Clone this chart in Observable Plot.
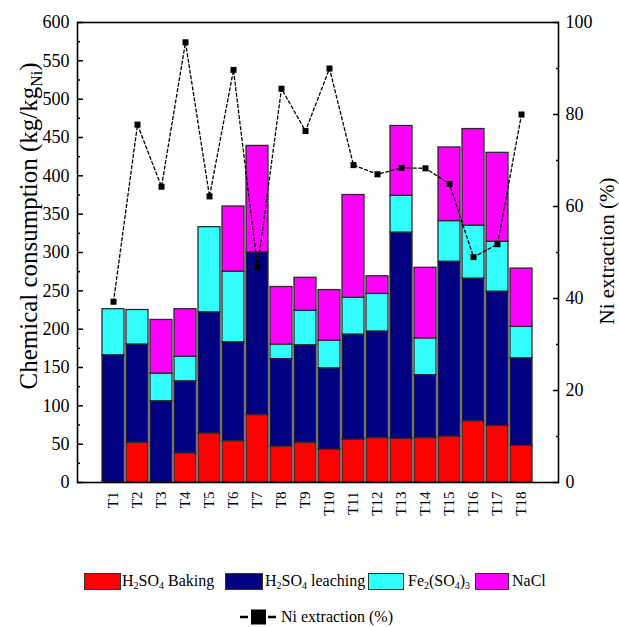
<!DOCTYPE html>
<html><head><meta charset="utf-8">
<script src="https://cdn.jsdelivr.net/npm/d3@7"></script>
<script src="https://cdn.jsdelivr.net/npm/@observablehq/plot@0.6"></script>
<style>
body{margin:0;background:#fff;font-family:'Liberation Serif',serif;color:#000;}
#wrap{position:relative;width:619px;height:627px;overflow:hidden;}
.sw{position:absolute;height:15px;border:1px solid #333;}
.lt{position:absolute;font-size:16px;line-height:16px;white-space:nowrap;font-family:'Liberation Serif',serif;}
.lt sub{font-size:10px;vertical-align:-3px;line-height:0;}
</style></head><body><div id="wrap"></div>
<script>
const trials = ["T1","T2","T3","T4","T5","T6","T7","T8","T9","T10","T11","T12","T13","T14","T15","T16","T17","T18"];
const baking   = [0,52,0,38,64,54,88,47,52,43,56,58,57,58,60,80,74,48];
const leaching = [166,128,106,94,158,129,212,114,127,106,137,139,269,82,228,186,175,114];
const ferric   = [60,45,36,32,111,92,0,19,45,36,48,49,48,48,53,69,65,41];
const nacl     = [0,0,70,62,0,85,139,75,43,66,134,23,91,92,96,126,116,76];
const niExtraction = [39.3,77.8,64.3,95.7,62.2,89.7,46.8,85.6,76.4,90.0,69.0,67.0,68.4,68.3,64.9,49.0,51.8,80.0];
const components = ["H2SO4 Baking","H2SO4 leaching","Fe2(SO4)3","NaCl"];
const colors = ["#ff0000","#000080","#33ffff","#ff00ff"];
const leftTicks = [0,50,100,150,200,250,300,350,400,450,500,550,600];
const leftMinor = [25,75,125,175,225,275,325,375,425,475,525,575];
const rightTicks = [0,20,40,60,80,100];
const rightMinor = [10,30,50,70,90];
const RATIO = 6; // 100 % on right axis = 600 on left axis

const FONT = "'Liberation Serif',serif";
const series = [baking, leaching, ferric, nacl];
const rows = trials.flatMap((t,i) => components.map((c,j) => ({trial:t, comp:c, value:series[j][i]}))).filter(d => d.value > 0);
const niRows = trials.map((t,i) => ({trial:t, ni:niExtraction[i]}));

const chart = Plot.plot({
  width: 619, height: 540,
  marginLeft: 77, marginRight: 61, marginTop: 22, marginBottom: 58,
  style: {fontFamily: FONT, fontSize: "18px", color: "#000", background: "#fff"},
  x: {domain: trials, paddingInner: 0.08, paddingOuter: 1.05, label: null},
  y: {domain: [0, 600], label: null},
  color: {domain: components, range: colors},
  marks: [
    Plot.barY(rows, {x: "trial", y: "value", fill: "comp", stroke: "#2a2a2a", strokeWidth: 1.3}),
    Plot.line(niRows, {x: "trial", y: d => d.ni * RATIO, stroke: "#000", strokeWidth: 1.3, strokeDasharray: "3,2.6"}),
    Plot.dot(niRows, {x: "trial", y: d => d.ni * RATIO, symbol: "square", fill: "#000", r: 3.4}),
    Plot.frame({stroke: "#000", strokeWidth: 1.6}),
    Plot.axisY({anchor: "left", ticks: leftTicks, tickSize: 0, tickPadding: 8, label: null}),
    Plot.axisY({anchor: "left", ticks: leftTicks, tickSize: -6, tickFormat: () => "", label: null, strokeWidth: 1.5}),
    Plot.axisY({anchor: "left", ticks: leftMinor, tickSize: -3, tickFormat: () => "", label: null, strokeWidth: 1.5}),
    Plot.axisY({anchor: "right", ticks: rightTicks.map(v => v * RATIO), tickFormat: d => d / RATIO, tickSize: 0, tickPadding: 7, label: null}),
    Plot.axisY({anchor: "right", ticks: rightTicks.map(v => v * RATIO), tickSize: -6, tickFormat: () => "", label: null, strokeWidth: 1.5}),
    Plot.axisY({anchor: "right", ticks: rightMinor.map(v => v * RATIO), tickSize: -3, tickFormat: () => "", label: null, strokeWidth: 1.5}),
    Plot.axisX({tickSize: 0, tickRotate: -90, tickPadding: 9, fontSize: 15, label: null})
  ]
});

const svg = d3.select(chart);
const t1 = svg.append("text").attr("transform", "translate(37,226) rotate(-90)")
  .attr("text-anchor", "middle").attr("font-size", 25).attr("fill", "#000").attr("font-family", FONT);
t1.append("tspan").text("Chemical consumption (kg/kg");
t1.append("tspan").attr("font-size", 16).attr("dy", 5).text("Ni");
t1.append("tspan").attr("dy", -5).text(")");
svg.append("text").attr("transform", "translate(614,251) rotate(-90)").attr("font-family", FONT)
  .attr("text-anchor", "middle").attr("font-size", 21).attr("fill", "#000").text("Ni extraction (%)");

const wrap = document.getElementById("wrap");
wrap.appendChild(chart);
chart.style.position = "absolute"; chart.style.left = "0"; chart.style.top = "0";

const legendItems = [
  {x: 84, w: 35, tx: 122, label: "H<sub>2</sub>SO<sub>4</sub> Baking", color: colors[0]},
  {x: 225, w: 36, tx: 265, label: "H<sub>2</sub>SO<sub>4</sub> leaching", color: colors[1]},
  {x: 368, w: 34, tx: 408, label: "Fe<sub>2</sub>(SO<sub>4</sub>)<sub>3</sub>", color: colors[2]},
  {x: 475, w: 32, tx: 512, label: "NaCl", color: colors[3]}
];
for (const it of legendItems) {
  const s = document.createElement("div");
  s.className = "sw"; s.style.left = it.x + "px"; s.style.top = "573px"; s.style.width = it.w + "px"; s.style.background = it.color;
  wrap.appendChild(s);
  const t = document.createElement("div");
  t.className = "lt"; t.style.left = it.tx + "px"; t.style.top = "573px"; t.innerHTML = it.label;
  wrap.appendChild(t);
}
const sym = document.createElementNS("http://www.w3.org/2000/svg", "svg");
sym.setAttribute("width", 38); sym.setAttribute("height", 18);
sym.style.position = "absolute"; sym.style.left = "239px"; sym.style.top = "608px";
sym.innerHTML = '<line x1="1" y1="9" x2="9" y2="9" stroke="#000" stroke-width="2.5"/><line x1="29" y1="9" x2="37" y2="9" stroke="#000" stroke-width="2.5"/><rect x="12" y="1.5" width="15" height="15" fill="#000"/>';
wrap.appendChild(sym);
const nt = document.createElement("div");
nt.className = "lt"; nt.style.left = "281px"; nt.style.top = "609px"; nt.textContent = "Ni extraction (%)";
wrap.appendChild(nt);
</script></body></html>
